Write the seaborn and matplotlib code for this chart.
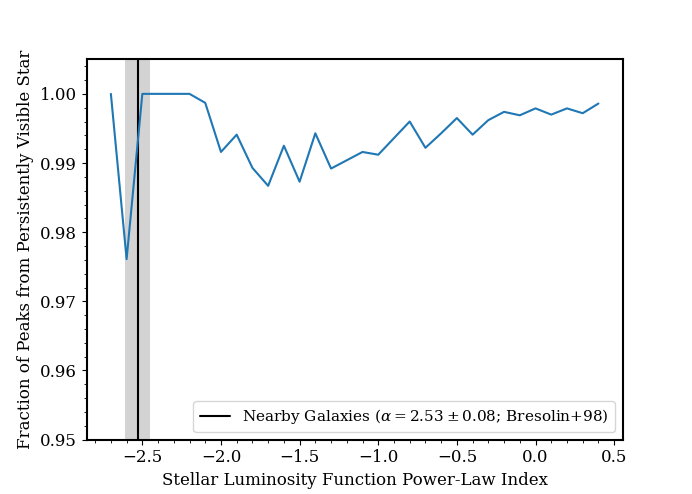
import numpy as np
import pandas as pd
import matplotlib
matplotlib.use("Agg")
import matplotlib.pyplot as plt
import seaborn as sns

# ── Data ──────────────────────────────────────────────────────
power_law_index = [-2.7, -2.6, -2.5, -2.4, -2.3, -2.2, -2.1, -2.0, -1.9, -1.8,
                   -1.7, -1.6, -1.5, -1.4, -1.3, -1.2, -1.1, -1.0, -0.9, -0.8,
                   -0.7, -0.6, -0.5, -0.4, -0.3, -0.2, -0.1, 0.0, 0.1, 0.2,
                   0.3, 0.4]
frac_visible = [1.0000, 0.9761, 1.0000, 1.0000, 1.0000, 1.0000, 0.9987, 0.9916,
                0.9941, 0.9893, 0.9867, 0.9925, 0.9873, 0.9943, 0.9892, 0.9904,
                0.9916, 0.9912, 0.9936, 0.9960, 0.9922, 0.9943, 0.9965, 0.9941,
                0.9962, 0.9974, 0.9969, 0.9979, 0.9970, 0.9979, 0.9972, 0.9986]

alpha_nearby = -2.53
alpha_err = 0.08

df = pd.DataFrame({"index": power_law_index, "frac": frac_visible})

# ── Style ─────────────────────────────────────────────────────
sns.set_style("ticks")
plt.rcParams["font.family"] = ["DejaVu Serif"]
plt.rcParams["mathtext.fontset"] = "dejavuserif"
plt.rcParams["axes.linewidth"] = 1.5
plt.rcParams["axes.edgecolor"] = "black"
plt.rcParams["xtick.color"] = "black"
plt.rcParams["ytick.color"] = "black"
plt.rcParams["text.color"] = "black"
plt.rcParams["axes.labelcolor"] = "black"

fig, ax = plt.subplots(figsize=(6.92, 4.94), dpi=100)

ax.axvspan(alpha_nearby - alpha_err, alpha_nearby + alpha_err,
           color="lightgray", lw=0)
ax.axvline(alpha_nearby, color="black", lw=1.5,
           label=r"Nearby Galaxies ($\alpha = 2.53 \pm 0.08$; Bresolin+98)")
sns.lineplot(data=df, x="index", y="frac", ax=ax, color="#1f77b4", lw=1.5)

ax.set_ylim(0.95, 1.005)
ax.set_xlabel("Stellar Luminosity Function Power-Law Index", fontsize=12)
ax.set_ylabel("Fraction of Peaks from Persistently Visible Star", fontsize=12)
ax.tick_params(labelsize=12)
ax.minorticks_on()
ax.legend(loc="lower right", fontsize=11)

fig.savefig("out.png", dpi=100)
plt.close(fig)
